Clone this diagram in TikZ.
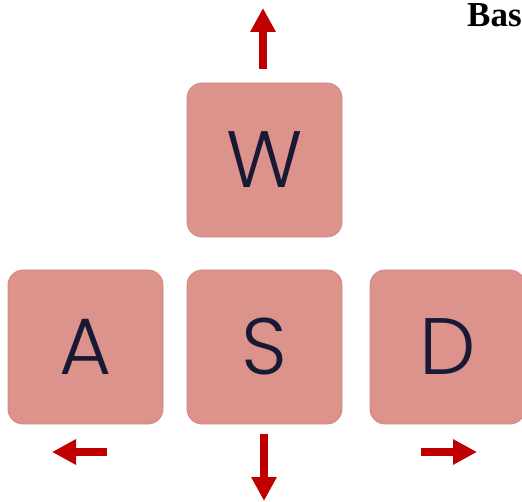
\documentclass[tikz,border=0pt]{standalone}
\usepackage{fontspec}
\usetikzlibrary{arrows.meta}
\newfontfamily\keyfont{Poppins Light}
\newfontfamily\titlefont{Liberation Serif}
\definecolor{keyfill}{HTML}{DC938B}
\definecolor{keyedge}{HTML}{D3877F}
\definecolor{keytext}{HTML}{181A35}
\definecolor{arrowred}{HTML}{C00000}
\tikzset{
  keybox/.style={rectangle, rounded corners=15pt, fill=keyfill, draw=keyedge, line width=0.8pt,
    minimum width=155pt, minimum height=154pt, inner sep=0pt,
    font=\keyfont\fontsize{80}{80}\selectfont, text=keytext},
  movearrow/.style={draw=arrowred, line width=8pt, -{Triangle[width=24pt,length=24pt]}}
}
\begin{document}
\begin{tikzpicture}[x=1pt,y=-1pt]
\useasboundingbox (0,0) rectangle (522,502);
\node[keybox] (W) at (264.5,160) {W};
\node[keybox] (A) at (85.5,347) {A};
\node[keybox] (S) at (264.5,347) {S};
\node[keybox] (D) at (447.5,347) {D};
\coordinate (wt) at (263,69);
\coordinate (wh) at (263,8);
\coordinate (at) at (107,452);
\coordinate (ah) at (52,452);
\coordinate (st) at (264,434);
\coordinate (sh) at (264,501);
\coordinate (dt) at (421,452);
\coordinate (dh) at (477,452);
\draw[movearrow] (wt) -- (wh);
\draw[movearrow] (at) -- (ah);
\draw[movearrow] (st) -- (sh);
\draw[movearrow] (dt) -- (dh);
\node[anchor=base west, inner sep=0pt, font=\titlefont\bfseries\fontsize{35}{35}\selectfont] (title) at (467,27) {Bas};
\end{tikzpicture}
\end{document}
